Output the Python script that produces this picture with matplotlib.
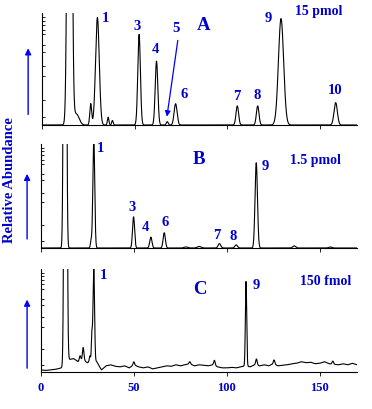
import numpy as np
import matplotlib
matplotlib.use("Agg")
import matplotlib.pyplot as plt

# peak tables: retention time (min), height (fraction of full scale), width (sigma)
a_times = [14.9, 18.5, 26.3, 29.9, 35.7, 38.0, 52.4, 61.8, 67.6, 72.1, 105.4, 116.4, 129.0, 158.5]
a_heights = [8.0, 0.10, 0.19, 0.96, 0.07, 0.04, 0.81, 0.57, 0.03, 0.19, 0.17, 0.17, 0.95, 0.20]
a_widths = [0.9, 1.5, 0.5, 1.0, 0.4, 0.4, 0.7, 0.7, 0.5, 0.8, 0.7, 0.7, 1.4, 0.9]

b_times = [12.9, 27.0, 28.4, 49.8, 59.1, 66.3, 78.0, 85.1, 96.0, 105.0, 115.8, 136.2, 155.6]
b_heights = [10.0, 0.07, 1.05, 0.30, 0.105, 0.147, 0.01, 0.015, 0.042, 0.03, 0.82, 0.02, 0.01]
b_widths = [0.55, 0.4, 0.5, 0.55, 0.6, 0.6, 1.0, 1.0, 0.7, 0.7, 0.65, 0.8, 0.8]

c_times = [13.2, 21.0, 22.7, 26.3, 27.4, 28.4, 49.9, 80.0, 93.3, 110.3, 115.9, 125.4, 157.0]
c_heights = [10.0, 0.05, 0.12, 0.05, 0.25, 0.9, 0.03, 0.02, 0.05, 0.82, 0.06, 0.04, 0.03]
c_widths = [0.55, 0.4, 0.4, 0.3, 0.3, 0.4, 0.4, 0.4, 0.4, 0.35, 0.4, 0.4, 0.4]

# baseline noise of trace C, one reading every 2.5 min from 0 to 170
c_noise_step = 2.5
c_noise = [0.02, 0.015, 0.02, 0.025, 0.035, 0.05, 0.12, 0.13, 0.10, 0.12, 0.09, 0.12, 0.10,
           0.02, 0.06, 0.07, 0.055, 0.05, 0.06, 0.04, 0.07, 0.05, 0.04, 0.05, 0.03, 0.04,
           0.05, 0.06, 0.055, 0.07, 0.06, 0.07, 0.08, 0.06, 0.07, 0.065, 0.06, 0.07, 0.05,
           0.04, 0.04, 0.045, 0.04, 0.05, 0.06, 0.05, 0.07, 0.06, 0.07, 0.06, 0.08, 0.06,
           0.065, 0.07, 0.08, 0.085, 0.10, 0.09, 0.095, 0.08, 0.085, 0.10, 0.08, 0.075,
           0.07, 0.08, 0.07, 0.085, 0.07]

# peak labels: (text, time, height)
a_labels = [("1", 34.2, 0.96), ("3", 51.4, 0.89), ("4", 61.4, 0.68), ("5", 72.1, 0.875),
            ("6", 76.8, 0.28), ("7", 105.4, 0.26), ("8", 116.4, 0.27), ("9", 122.2, 0.96),
            ("10", 158.2, 0.315)]
b_labels = [("1", 32.1, 0.97), ("3", 48.8, 0.40), ("4", 56.4, 0.21), ("6", 67.0, 0.255),
            ("7", 94.8, 0.13), ("8", 103.2, 0.12), ("9", 120.7, 0.79)]
c_labels = [("1", 33.8, 0.945), ("9", 115.8, 0.85)]

xticks = [0, 50, 100, 150]
blue = "#0000cc"
serif = "Liberation Serif"


def trace(t, times, heights, widths):
    y = np.zeros_like(t)
    for c, h, s in zip(times, heights, widths):
        y += h * np.exp(-0.5 * ((t - c) / s) ** 2)
    return y


t = np.linspace(0, 170, 3000)
noise_t = np.arange(len(c_noise)) * c_noise_step
traces = [
    trace(t, a_times, a_heights, a_widths),
    trace(t, b_times, b_heights, b_widths),
    trace(t, c_times, c_heights, c_widths) + np.interp(t, noise_t, c_noise),
]

fig = plt.figure(figsize=(3.72, 4.10), dpi=100)
W, H = 372, 410
boxes = [(42, 14, 357, 126), (41, 145, 357, 249), (41, 270, 357, 373)]
panels = [("A", 87, 0.90, "15 pmol", 149.2, 1.02, a_labels),
          ("B", 84.9, 0.86, "1.5 pmol", 147.4, 0.85, b_labels),
          ("C", 85.6, 0.81, "150 fmol", 153.1, 0.89, c_labels)]
arrows = [(0.07, 0.71), (0.06, 0.74), (0.01, 0.73)]

for i, (box, y, panel) in enumerate(zip(boxes, traces, panels)):
    x0, y0, x1, y1 = box
    ax = fig.add_axes([x0 / W, 1 - y1 / H, (x1 - x0) / W, (y1 - y0) / H])
    ax.plot(t, y, color="black", lw=0.8)
    ax.set_xlim(0, 170)
    ax.set_ylim(0, 1)
    for s in ["top", "right"]:
        ax.spines[s].set_visible(False)
    ax.spines["left"].set_linewidth(0.8)
    ax.spines["bottom"].set_linewidth(0.8)
    ax.set_yticks([0.07, 0.22, 0.44, 0.53, 0.65, 0.71, 0.81, 0.85, 0.89, 0.93, 0.96])
    ax.tick_params(axis="y", direction="in", length=2, width=0.6, labelleft=False)
    ax.set_xticks(xticks)
    ax.tick_params(axis="x", direction="out", length=3, width=0.6, colors="black")
    if i < 2:
        ax.tick_params(axis="x", labelbottom=False)
    else:
        ax.set_xticklabels([str(v) for v in xticks], color=blue, fontsize=9,
                           fontweight="bold", family=serif)

    name, nx, ny, amount, mx, my, labels = panel
    ax.text(nx, ny, name, color=blue, fontsize=13.5, fontweight="bold", family=serif,
            ha="center", va="center")
    ax.text(mx, my, amount, color=blue, fontsize=10, fontweight="bold", family=serif,
            ha="center", va="center")
    for txt, lx, ly in labels:
        ax.text(lx, ly, txt, color=blue, fontsize=10.5, fontweight="bold", family=serif,
                ha="center", va="center")

    # blue upward arrow left of the axis
    ya, yb = arrows[i]
    ax.annotate("", xy=(-0.044, yb), xytext=(-0.044, ya), xycoords="axes fraction",
                arrowprops=dict(arrowstyle="-|>", color="#0000ff", lw=1, mutation_scale=9),
                annotation_clip=False)
    if i == 0:
        ax.annotate("", xy=(67.2, 0.05), xytext=(73.5, 0.78),
                    arrowprops=dict(arrowstyle="-|>", color="#0000ff", lw=0.9, mutation_scale=8))

fig.text(10 / W, 1 - 180 / H, "Relative Abundance", rotation=90, color=blue, fontsize=10.5,
         fontweight="bold", family=serif, ha="center", va="center")

fig.savefig("out.png", dpi=100)
